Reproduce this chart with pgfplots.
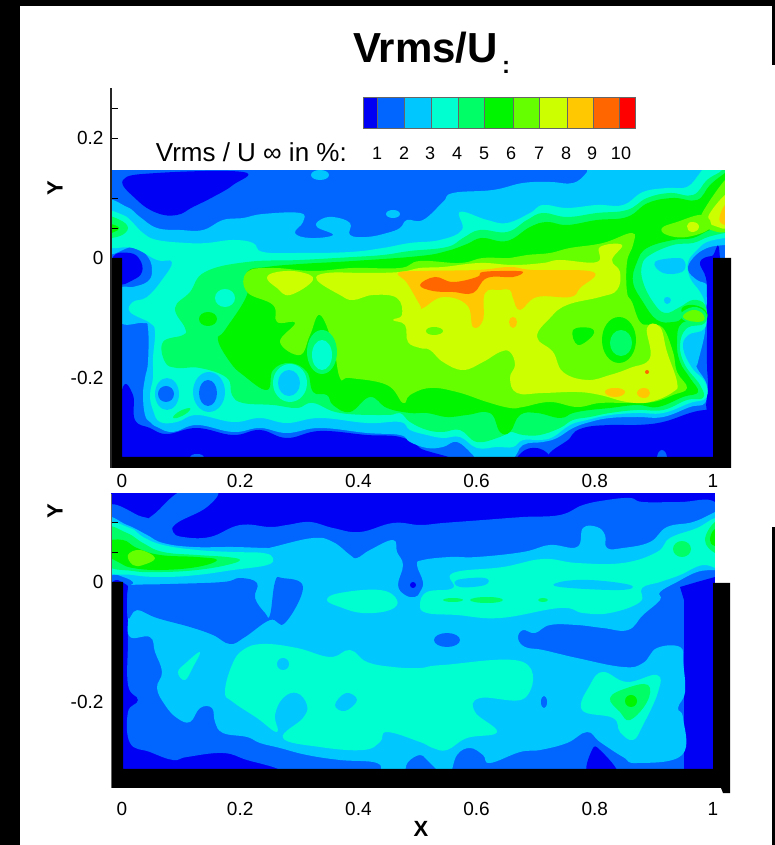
\documentclass[border=0pt]{standalone}
\usepackage{fontspec}
\setmainfont{Liberation Sans}
\usepackage{pgfplots}
\pgfplotsset{compat=1.18}
\definecolor{L0}{RGB}{0,0,245}
\definecolor{L1}{RGB}{0,102,255}
\definecolor{L2}{RGB}{0,200,255}
\definecolor{L3}{RGB}{0,255,208}
\definecolor{L4}{RGB}{0,255,102}
\definecolor{L5}{RGB}{0,245,0}
\definecolor{L6}{RGB}{102,255,0}
\definecolor{L7}{RGB}{204,255,0}
\definecolor{L8}{RGB}{255,200,0}
\definecolor{L9}{RGB}{255,102,0}
\definecolor{L10}{RGB}{255,0,0}
\newcommand{\R}[2]{\addplot[smooth cycle,tension=0.7,draw=none,fill=#1,forget plot] coordinates {#2};}
\newcommand{\B}[2]{\addplot[smooth cycle,tension=1,draw=none,fill=#1,forget plot] coordinates {#2};}
\newcommand{\Q}[2]{\addplot[draw=none,fill=#1,forget plot] coordinates {#2} -- cycle;}
\newcommand{\fs}[1]{\fontsize{#1}{#1}\selectfont}
\pgfplotsset{panel/.style={
  scale only axis,width=659pt,
  xmin=-0.018613,xmax=1.096447,
  axis on top,
  axis x line*=bottom,axis y line*=left,
  x axis line style={draw=none},
  tick align=inside,
  major tick length=7pt,minor tick length=7pt,
  tick style={black,line width=0.6pt},
  xtick={0,0.2,0.4,0.6,0.8,1},
  xticklabels={0,0.2,0.4,0.6,0.8,1},
  xtick style={draw=none},
  tick label style={font=\fs{19}},
  x filter/.expression={(x-122)/591},
},
overlay/.style={at={(0pt,0pt)},anchor=south west,scale only axis,width=775pt,height=845pt,
  xmin=0,xmax=775,ymin=0,ymax=845,y dir=reverse,hide axis}}
\begin{document}
\begin{tikzpicture}[x=1pt,y=1pt]
\path[use as bounding box] (0,0) rectangle (775pt,845pt);
% page frame
\begin{axis}[overlay]
\Q{white}{(0,0)(775,0)(775,845)(0,845)}
\Q{black}{(0,0)(20,0)(20,845)(0,845)}
\Q{black}{(0,0)(775,0)(775,6)(0,6)}
\Q{black}{(772,0)(775,0)(775,65)(772,65)}
\Q{black}{(772,527)(775,527)(775,845)(772,845)}
\Q{black}{(723,787)(730,787)(730,793)(723,793)(721,788)}
\end{axis}
% upper panel
\begin{axis}[panel,at={(111pt,377pt)},anchor=south west,height=380pt,
  ymin=-0.35,ymax=0.283333,
  y filter/.expression={(258-y)/600},
  ytick={-0.2,0,0.2},yticklabels={-0.2,0,0.2},
  minor ytick={0.25,0.1,0.05},
  y axis line style={line width=1.5pt,black!85},
  xticklabel shift={3pt},yticklabel shift={4pt}]
\Q{L1}{(105,160)(730,160)(730,475)(105,475)}
\R{L0}{(123,180)(157,173)(243,172)(233,185)(213,197)(193,207)(177,215)(157,213)(137,200)}
\R{L0}{(122,390)(133,395)(135,420)(150,428)(167,434)(197,428)(233,435)(260,430)(287,438)(320,431)(367,435)(400,437)(420,448)(430,465)(115,465)}
\R{L0}{(517,465)(525,450)(543,450)(552,465)}
\R{L0}{(560,462)(570,438)(583,428)(610,425)(637,425)(663,422)(690,413)(705,410)(720,410)(720,465)}
\B{L1}{(657,458)(662,450)(667,458)(662,464)}
\B{L1}{(190,458)(197,454)(204,458)(197,464)}
\R{L0}{(113,257)(130,253)(140,260)(142,272)(133,280)(118,283)}
\R{L2}{(105,203)(127,207)(140,217)(157,228)(180,230)(203,230)(223,220)(243,218)(263,214)(300,213)(303,222)(295,233)(310,238)(333,235)(317,227)(320,220)(333,217)(350,223)(350,235)(367,237)(387,233)(400,228)(407,220)(423,220)(443,202)(453,193)(493,190)(523,183)(550,182)(573,183)(587,172)(592,160)(730,160)(730,245)(725,245)(707,248)(693,258)(688,270)(697,280)(707,285)(708,298)(705,312)(705,332)(698,362)(697,368)(707,385)(705,403)(690,407)(663,417)(637,417)(610,418)(590,422)(573,428)(557,438)(543,442)(523,445)(510,460)(477,460)(473,455)(457,442)(443,447)(427,448)(410,442)(400,435)(367,433)(320,428)(287,433)(260,428)(233,432)(197,425)(173,432)(157,427)(150,422)(145,415)(143,395)(145,378)(148,362)(148,328)(143,323)(120,322)(120,290)(133,287)(147,282)(152,272)(148,257)(133,247)(105,252)}
\R{L0}{(700,262)(712,256)(720,260)(720,410)(707,410)(708,385)(707,365)(707,332)(707,298)(706,278)}
\B{L2}{(311,175)(320,170)(329,175)(320,180)}
\B{L2}{(386,214)(393,210)(400,214)(393,218)}
\R{L3}{(105,213)(123,215)(133,223)(143,233)(157,240)(187,243)(207,243)(233,240)(253,243)(263,252)(300,253)(350,252)(383,248)(410,243)(440,240)(462,230)(460,212)(487,220)(507,223)(530,213)(543,205)(567,208)(597,205)(623,205)(643,192)(667,188)(687,187)(700,173)(707,165)(730,165)(730,238)(725,238)(707,242)(697,250)(688,262)(690,278)(700,292)(705,305)(705,328)(688,335)(683,348)(692,368)(705,382)(706,398)(690,403)(663,413)(637,413)(610,415)(587,420)(570,425)(553,437)(540,440)(523,440)(513,447)(497,447)(477,448)(460,437)(443,438)(427,435)(410,430)(400,422)(367,423)(320,418)(287,423)(260,418)(233,422)(197,415)(177,422)(160,422)(153,410)(150,395)(153,378)(153,358)(155,332)(150,323)(130,312)(133,302)(147,297)(162,280)(172,262)(157,260)(133,248)(105,245)}
\R{L4}{(205,272)(247,262)(300,260)(353,257)(383,255)(410,251)(447,247)(463,238)(480,230)(507,232)(527,220)(543,213)(567,217)(597,213)(627,210)(647,198)(670,193)(693,195)(707,180)(720,172)(730,165)(730,233)(725,233)(708,237)(693,243)(673,245)(650,255)(642,265)(643,282)(653,302)(665,313)(680,307)(693,300)(705,305)(705,323)(687,328)(680,345)(685,365)(700,385)(703,398)(687,400)(663,410)(637,410)(610,413)(590,417)(573,420)(560,428)(540,435)(523,435)(510,432)(500,437)(477,442)(460,430)(443,432)(427,430)(410,422)(400,413)(387,415)(340,413)(313,403)(297,408)(273,405)(243,403)(232,395)(227,378)(200,368)(177,368)(165,362)(163,342)(183,335)(185,328)(175,308)(190,292)}
\R{L5}{(247,272)(267,267)(300,264)(353,261)(420,256)(447,251)(467,244)(482,238)(507,241)(530,227)(547,222)(567,225)(597,220)(627,217)(648,203)(673,198)(697,200)(710,185)(725,173)(730,170)(730,228)(725,228)(710,230)(693,238)(673,240)(647,248)(637,262)(633,282)(643,302)(657,320)(673,322)(682,318)(682,308)(693,305)(705,310)(705,320)(682,323)(677,342)(680,362)(690,378)(698,392)(683,397)(658,407)(637,405)(610,408)(590,410)(573,413)(560,418)(537,413)(520,415)(510,432)(500,432)(490,413)(467,415)(447,417)(427,413)(410,413)(387,408)(370,397)(350,412)(333,405)(327,395)(313,392)(307,372)(290,363)(273,370)(267,390)(243,375)(230,362)(218,340)(225,330)(247,295)}
\R{L6}{(247,272)(273,268)(313,271)(353,268)(400,268)(420,261)(460,263)(483,258)(510,258)(527,255)(550,253)(570,248)(603,243)(632,233)(633,245)(627,262)(627,292)(632,302)(640,322)(650,325)(663,328)(673,352)(677,372)(687,388)(673,395)(653,402)(630,403)(600,403)(577,407)(550,402)(523,407)(510,408)(487,402)(457,392)(430,388)(410,395)(403,403)(387,385)(350,378)(340,378)(333,345)(320,315)(310,335)(300,355)(280,342)(295,323)(277,322)(273,305)(247,292)}
\R{L7}{(267,278)(277,272)(300,272)(313,280)(290,295)(277,288)}
\R{L7}{(317,280)(327,273)(367,273)(400,272)(420,268)(443,267)(480,263)(513,265)(543,263)(560,260)(597,262)(600,247)(622,245)(612,260)(620,272)(617,290)(600,297)(567,305)(550,318)(537,337)(553,352)(563,372)(587,380)(610,375)(630,368)(650,358)(647,328)(660,327)(667,352)(677,382)(673,392)(650,402)(627,402)(600,395)(577,392)(543,393)(517,393)(510,378)(515,365)(510,352)(500,352)(483,362)(463,370)(443,362)(430,350)(420,348)(408,342)(405,325)(393,320)(402,315)(397,298)(373,295)(353,300)(340,295)}
\R{L8}{(398,273)(420,271)(477,270)(510,267)(533,270)(593,272)(580,288)(570,297)(537,297)(520,310)(513,298)(510,290)(500,290)(485,293)(483,320)(473,327)(467,305)(443,297)(423,308)(420,305)(407,283)}
\R{L9}{(420,285)(435,277)(453,282)(477,277)(483,272)(510,271)(523,272)(513,277)(487,278)(473,293)(453,292)(433,291)}
\B{L8}{(605,392)(615,388)(625,392)(615,397)}
\B{L8}{(637,393)(644,388)(650,393)(644,398)}
\B{L8}{(509,322)(513,317)(517,322)(513,328)}
\B{L9}{(645,372)(647,370)(649,372)(647,374)}
\B{L6}{(426,331)(434,327)(443,331)(434,335)}
\R{L5}{(573,330)(590,328)(593,335)(578,345)}
\B{L5}{(602,340)(619,317)(636,340)(619,363)}
\B{L4}{(610,343)(621,330)(632,343)(621,356)}
% right corner
\R{L6}{(730,180)(725,180)(707,205)(700,220)(705,228)(730,228)}
\R{L7}{(730,195)(725,195)(712,210)(708,220)(715,226)(730,226)}
\R{L8}{(730,205)(725,205)(720,215)(720,222)(725,225)(730,225)}
\R{L6}{(662,228)(677,222)(703,215)(710,228)(687,237)(667,235)}
\B{L7}{(687,226)(693,222)(699,227)(692,232)}
% right hole
\R{L2}{(655,262)(677,258)(685,262)(682,272)(663,273)}
\B{L2}{(664,300)(667,297)(671,300)(667,304)}
\R{L4}{(680,315)(693,307)(705,312)(705,322)(690,323)}
\R{L6}{(683,316)(693,310)(703,314)(703,321)(690,321)}
% left side blobs
\R{L4}{(105,217)(120,220)(128,228)(120,236)(105,236)}
\R{L5}{(105,224)(117,226)(118,230)(105,234)}
\B{L2}{(155,394)(167,378)(179,394)(167,410)}
\B{L1}{(158,394)(166,386)(174,394)(166,402)}
\B{L2}{(193,392)(209,372)(225,392)(209,412)}
\B{L1}{(199,393)(208,380)(217,393)(208,406)}
\R{L4}{(173,417)(180,411)(190,408)(187,413)(177,418)}
\B{L3}{(273,383)(290,364)(307,383)(290,402)}
\B{L2}{(278,383)(289,370)(300,383)(289,396)}
\B{L4}{(307,352)(322,330)(337,352)(322,374)}
\B{L3}{(312,355)(322,340)(332,355)(322,370)}
\B{L3}{(215,298)(225,289)(235,298)(225,307)}
\B{L5}{(199,319)(208,312)(217,319)(208,326)}
% masks and walls
\Q{white}{(105,80)(775,80)(775,170)(105,170)}
\Q{white}{(725,165)(775,165)(775,258)(725,258)}
\Q{white}{(731,250)(775,250)(775,480)(731,480)}
\Q{black}{(105,258)(122,258)(122,457)(713,457)(713,258)(731,258)(731,468)(105,468)}
\end{axis}
% lower panel
\begin{axis}[panel,at={(111pt,57pt)},anchor=south west,height=294pt,
  ymin=-0.343333,ymax=0.146667,
  y filter/.expression={(582-y)/600},
  ytick={-0.2,0},yticklabels={-0.2,0},
  minor ytick={0.05,0.1},
  y axis line style={line width=0.7pt,black!60},
  xticklabel shift={10.5pt},yticklabel shift={4pt}]
\Q{L0}{(105,488)(730,488)(730,785)(105,785)}
\R{L1}{(105,508)(143,517)(153,515)(183,490)(217,490)(207,507)(177,523)(173,532)(183,537)(210,537)(240,525)(270,527)(287,525)(310,522)(333,528)(360,532)(393,523)(420,525)(443,523)(483,520)(523,517)(560,515)(583,505)(607,500)(630,498)(643,502)(680,502)(715,502)(725,530)(725,650)(725,770)(680,780)(500,780)(280,780)(280,770)(247,760)(223,753)(187,757)(173,760)(150,752)(130,743)(128,712)(138,700)(128,685)(128,640)(128,600)(132,590)(118,580)(105,578)}
\Q{L0}{(680,587)(697,582)(715,577)(730,577)(730,775)(684,775)(684,600)}
\R{L0}{(588,775)(592,750)(600,750)(618,775)}
\R{L2}{(105,520)(127,525)(147,535)(163,543)(193,547)(233,547)(267,548)(273,547)(313,538)(333,542)(350,555)(357,558)(370,550)(393,540)(397,552)(403,565)(398,585)(405,595)(415,597)(420,592)(423,582)(417,565)(423,560)(450,557)(477,557)(523,552)(550,545)(577,547)(583,528)(597,527)(605,535)(607,548)(623,548)(650,542)(667,527)(693,522)(715,512)(728,505)(728,570)(715,570)(697,572)(677,582)(660,592)(660,600)(643,615)(628,630)(603,628)(577,625)(550,625)(535,633)(523,630)(518,638)(525,647)(543,650)(577,658)(623,667)(643,663)(657,648)(680,647)(683,662)(685,692)(678,708)(683,718)(682,755)(637,763)(623,757)(600,742)(587,732)(567,743)(540,750)(520,752)(490,763)(483,755)(470,748)(457,755)(450,775)(443,775)(427,760)(420,755)(408,762)(402,775)(383,775)(377,763)(340,760)(307,755)(280,748)(260,743)(247,737)(223,733)(215,722)(212,708)(200,708)(190,722)(177,718)(165,705)(157,688)(162,672)(155,652)(150,637)(130,637)(128,618)(128,590)(133,582)(118,575)(105,570)}
\R{L1}{(132,585)(170,584)(223,582)(240,578)(257,583)(255,598)(265,613)(270,615)(275,582)(282,578)(303,587)(285,623)(270,620)(245,637)(230,644)(213,635)(190,627)(157,618)(137,610)(128,618)(128,588)}
\R{L3}{(105,525)(130,528)(143,537)(163,545)(197,550)(233,552)(263,553)(273,558)(267,565)(233,570)(197,575)(163,577)(133,575)(105,568)}
\R{L4}{(105,528)(127,533)(143,543)(163,552)(197,555)(227,557)(240,560)(227,565)(197,570)(163,572)(133,571)(105,563)}
\R{L5}{(105,542)(123,540)(137,548)(160,555)(197,557)(217,560)(197,567)(160,570)(133,568)(120,563)(105,553)}
\R{L6}{(128,555)(140,550)(155,558)(143,565)(133,565)}
\R{L3}{(225,692)(232,665)(243,650)(263,644)(297,648)(330,657)(350,650)(367,662)(393,667)(420,668)(443,665)(523,662)(525,698)(480,698)(475,712)(497,732)(467,738)(447,750)(433,748)(420,742)(387,732)(380,742)(363,750)(320,747)(283,738)(303,718)(307,705)(297,693)(283,698)(275,715)(277,732)(257,718)(233,702)}
\B{L2}{(277,664)(283,658)(289,664)(283,670)}
\R{L2}{(335,705)(346,693)(357,700)(345,711)}
\R{L3}{(178,672)(187,662)(200,652)(193,667)(185,680)}
\R{L3}{(327,600)(340,593)(380,590)(397,600)(390,610)(363,613)(340,607)}
\R{L3}{(728,518)(715,518)(697,528)(670,538)(657,552)(623,563)(577,563)(543,559)(503,567)(453,573)(453,588)(427,592)(420,605)(427,613)(457,615)(500,618)(560,608)(583,613)(610,613)(640,602)(642,588)(660,582)(680,575)(703,565)(728,567)}
\R{L2}{(457,580)(485,578)(485,585)(460,587)}
\R{L2}{(560,582)(590,580)(630,585)(620,590)(560,587)}
\B{L4}{(443,600)(453,598)(463,600)(453,602)}
\B{L4}{(470,600)(487,597)(503,600)(487,603)}
\B{L4}{(538,600)(543,598)(548,600)(543,602)}
\B{L4}{(673,549)(682,541)(691,549)(682,557)}
\R{L4}{(728,522)(715,522)(705,540)(715,553)(728,553)}
\R{L5}{(728,529)(715,529)(710,540)(715,546)(728,546)}
\B{L1}{(434,640)(447,633)(460,640)(447,647)}
\B{L1}{(541,702)(544,696)(547,702)(544,708)}
\B{L0}{(410,585)(413,582)(416,585)(413,588)}
\R{L3}{(582,710)(590,685)(603,672)(627,682)(657,675)(658,692)(643,725)(633,740)(620,732)(613,718)}
\R{L4}{(610,698)(627,688)(648,685)(647,702)(630,720)(620,712)}
\B{L5}{(625,701)(631,695)(637,701)(631,707)}
\Q{white}{(715,488)(775,488)(775,583)(715,583)}
\Q{white}{(730,580)(775,580)(775,800)(730,800)}
\Q{black}{(105,582)(123,582)(123,769)(713,769)(713,583)(730,583)(730,788)(105,788)}
\end{axis}
% title, colour key, axis names
\begin{axis}[overlay]
\Q{black}{(772,527)(775,527)(775,845)(772,845)}
\Q{black}{(772,0)(775,0)(775,65)(772,65)}
\node[anchor=base west,inner sep=0pt,font=\fs{42}\bfseries] at (axis cs:353,63) {Vrms/U};
\node[anchor=center,inner sep=0pt,font=\fs{24}\bfseries] at (axis cs:506,67) {:};
\addplot[fill=L0,draw=black!60,forget plot] coordinates {(363,97)(377,97)(377,128)(363,128)} -- cycle;
\addplot[fill=L1,draw=black!60,forget plot] coordinates {(377,97)(404,97)(404,128)(377,128)} -- cycle;
\addplot[fill=L2,draw=black!60,forget plot] coordinates {(404,97)(431,97)(431,128)(404,128)} -- cycle;
\addplot[fill=L3,draw=black!60,forget plot] coordinates {(431,97)(458,97)(458,128)(431,128)} -- cycle;
\addplot[fill=L4,draw=black!60,forget plot] coordinates {(458,97)(484,97)(484,128)(458,128)} -- cycle;
\addplot[fill=L5,draw=black!60,forget plot] coordinates {(484,97)(513,97)(513,128)(484,128)} -- cycle;
\addplot[fill=L6,draw=black!60,forget plot] coordinates {(513,97)(539,97)(539,128)(513,128)} -- cycle;
\addplot[fill=L7,draw=black!60,forget plot] coordinates {(539,97)(567,97)(567,128)(539,128)} -- cycle;
\addplot[fill=L8,draw=black!60,forget plot] coordinates {(567,97)(593,97)(593,128)(567,128)} -- cycle;
\addplot[fill=L9,draw=black!60,forget plot] coordinates {(593,97)(619,97)(619,128)(593,128)} -- cycle;
\addplot[fill=L10,draw=black!60,forget plot] coordinates {(619,97)(635,97)(635,128)(619,128)} -- cycle;
\node[anchor=base east,inner sep=0pt,font=\fs{26}] at (axis cs:347,161) {Vrms / U ∞ in \%:};
\node[anchor=base,inner sep=0pt,font=\fs{18}] at (axis cs:377,160) {1};
\node[anchor=base,inner sep=0pt,font=\fs{18}] at (axis cs:404,160) {2};
\node[anchor=base,inner sep=0pt,font=\fs{18}] at (axis cs:430,160) {3};
\node[anchor=base,inner sep=0pt,font=\fs{18}] at (axis cs:457,160) {4};
\node[anchor=base,inner sep=0pt,font=\fs{18}] at (axis cs:484,160) {5};
\node[anchor=base,inner sep=0pt,font=\fs{18}] at (axis cs:511,160) {6};
\node[anchor=base,inner sep=0pt,font=\fs{18}] at (axis cs:539,160) {7};
\node[anchor=base,inner sep=0pt,font=\fs{18}] at (axis cs:566,160) {8};
\node[anchor=base,inner sep=0pt,font=\fs{18}] at (axis cs:592,160) {9};
\node[anchor=base,inner sep=0pt,font=\fs{18}] at (axis cs:621,160) {10};
\node[rotate=90,font=\fs{22}\bfseries,inner sep=0pt] at (axis cs:55,188) {Y};
\node[rotate=90,font=\fs{22}\bfseries,inner sep=0pt] at (axis cs:55,511) {Y};
\node[font=\fs{22}\bfseries,inner sep=0pt] at (axis cs:421,829) {X};
\end{axis}
\end{tikzpicture}
\end{document}
